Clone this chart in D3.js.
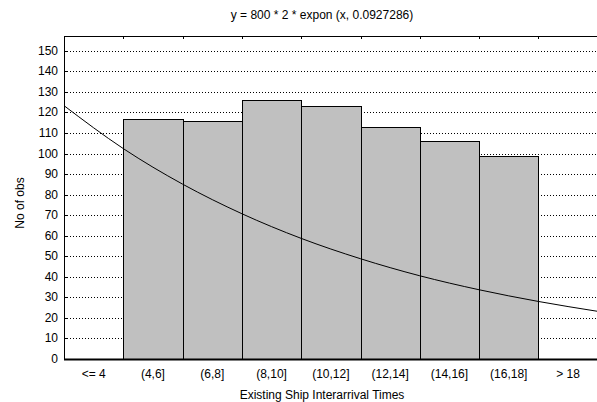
<!DOCTYPE html>
<meta charset="utf-8">
<script src="https://d3js.org/d3.v7.min.js"></script>
<style>
  body { margin: 0; background: #fff; }
  text { font-family: "Liberation Sans", Arial, sans-serif; font-size: 12px; fill: #000; }
</style>
<div id="chart"></div>
<script>
// histogram bins and counts
var categories = ["<= 4", "(4,6]", "(6,8]", "(8,10]", "(10,12]", "(12,14]", "(14,16]", "(16,18]", "> 18"];
var counts = [0, 117, 116, 126, 123, 113, 106, 99, 0];
// fitted exponential curve, read at the bin boundaries
var curveX = [2, 4, 6, 8, 10, 12, 14, 16, 18, 20];
var curveY = [123.3, 102.4, 85.1, 70.7, 58.7, 48.8, 40.5, 33.7, 28.0, 23.2];
var yTicks = [0, 10, 20, 30, 40, 50, 60, 70, 80, 90, 100, 110, 120, 130, 140, 150];

var width = 597, height = 402;
var plotLeft = 64, plotRight = 597.7, plotTop = 36, plotBottom = 359;

var svg = d3.select("#chart").append("svg")
    .attr("width", width)
    .attr("height", height);

var x = d3.scaleBand()
    .domain(categories)
    .range([plotLeft, plotRight])
    .padding(0);

var xc = d3.scaleLinear()
    .domain([2, 20])
    .range([plotLeft, plotRight]);

var y = d3.scaleLinear()
    .domain([0, 157.2])
    .range([plotBottom, plotTop]);

// dotted grid lines
svg.append("g")
  .selectAll("line")
  .data(yTicks.filter(function(d){ return d > 0; }))
  .enter().append("line")
    .attr("x1", plotLeft)
    .attr("x2", width)
    .attr("y1", function(d){ return Math.round(y(d)) + 0.5; })
    .attr("y2", function(d){ return Math.round(y(d)) + 0.5; })
    .attr("stroke", "#000")
    .attr("stroke-dasharray", "1,2");

// bars
var bars = categories.map(function(c, i){ return {cat: c, n: counts[i]}; })
    .filter(function(d){ return d.n > 0; });

svg.append("g")
  .selectAll("rect")
  .data(bars)
  .enter().append("rect")
    .attr("x", function(d){ return Math.round(x(d.cat)) + 0.5; })
    .attr("width", function(d){ return Math.round(x(d.cat) + x.bandwidth()) - Math.round(x(d.cat)); })
    .attr("y", function(d){ return Math.round(y(d.n)) + 0.5; })
    .attr("height", function(d){ return Math.round(plotBottom) - Math.round(y(d.n)); })
    .attr("fill", "#c0c0c0")
    .attr("stroke", "#000")
    .attr("stroke-width", 1);

// fitted curve
var line = d3.line()
    .x(function(d, i){ return xc(curveX[i]); })
    .y(function(d){ return y(d); })
    .curve(d3.curveMonotoneX);

svg.append("path")
    .datum(curveY)
    .attr("d", line)
    .attr("fill", "none")
    .attr("stroke", "#000")
    .attr("stroke-width", 1);

// left axis line with small inward ticks
svg.append("line")
    .attr("x1", plotLeft + 0.5).attr("x2", plotLeft + 0.5)
    .attr("y1", plotTop).attr("y2", plotBottom)
    .attr("stroke", "#000");
svg.append("g")
  .selectAll("line")
  .data(yTicks.filter(function(d){ return d > 0; }))
  .enter().append("line")
    .attr("x1", plotLeft).attr("x2", plotLeft + 3)
    .attr("y1", function(d){ return Math.round(y(d)) + 0.5; })
    .attr("y2", function(d){ return Math.round(y(d)) + 0.5; })
    .attr("stroke", "#000");

// top frame line with ticks at bin boundaries
svg.append("line")
    .attr("x1", plotLeft).attr("x2", width)
    .attr("y1", plotTop + 0.5).attr("y2", plotTop + 0.5)
    .attr("stroke", "#000");
svg.append("g")
  .selectAll("line")
  .data(categories.slice(1))
  .enter().append("line")
    .attr("x1", function(d){ return Math.round(x(d)) + 0.5; })
    .attr("x2", function(d){ return Math.round(x(d)) + 0.5; })
    .attr("y1", plotTop).attr("y2", plotTop + 3)
    .attr("stroke", "#000");

// thick bottom axis
svg.append("line")
    .attr("x1", plotLeft).attr("x2", width)
    .attr("y1", plotBottom + 0.5).attr("y2", plotBottom + 0.5)
    .attr("stroke", "#000")
    .attr("stroke-width", 2);

// y tick labels
svg.append("g")
  .selectAll("text")
  .data(yTicks)
  .enter().append("text")
    .attr("x", 58)
    .attr("y", function(d){ return y(d) + 4; })
    .attr("text-anchor", "end")
    .text(function(d){ return d; });

// x tick labels
svg.append("g")
  .selectAll("text")
  .data(categories)
  .enter().append("text")
    .attr("x", function(d){ return x(d) + x.bandwidth() / 2; })
    .attr("y", 378)
    .attr("text-anchor", "middle")
    .text(function(d){ return d; });

// titles
svg.append("text")
    .attr("x", 322).attr("y", 19)
    .attr("text-anchor", "middle")
    .text("y = 800 * 2 * expon (x, 0.0927286)");

svg.append("text")
    .attr("x", 322).attr("y", 399)
    .attr("text-anchor", "middle")
    .text("Existing Ship Interarrival Times");

svg.append("text")
    .attr("transform", "translate(24,203) rotate(-90)")
    .attr("text-anchor", "middle")
    .text("No of obs");
</script>
